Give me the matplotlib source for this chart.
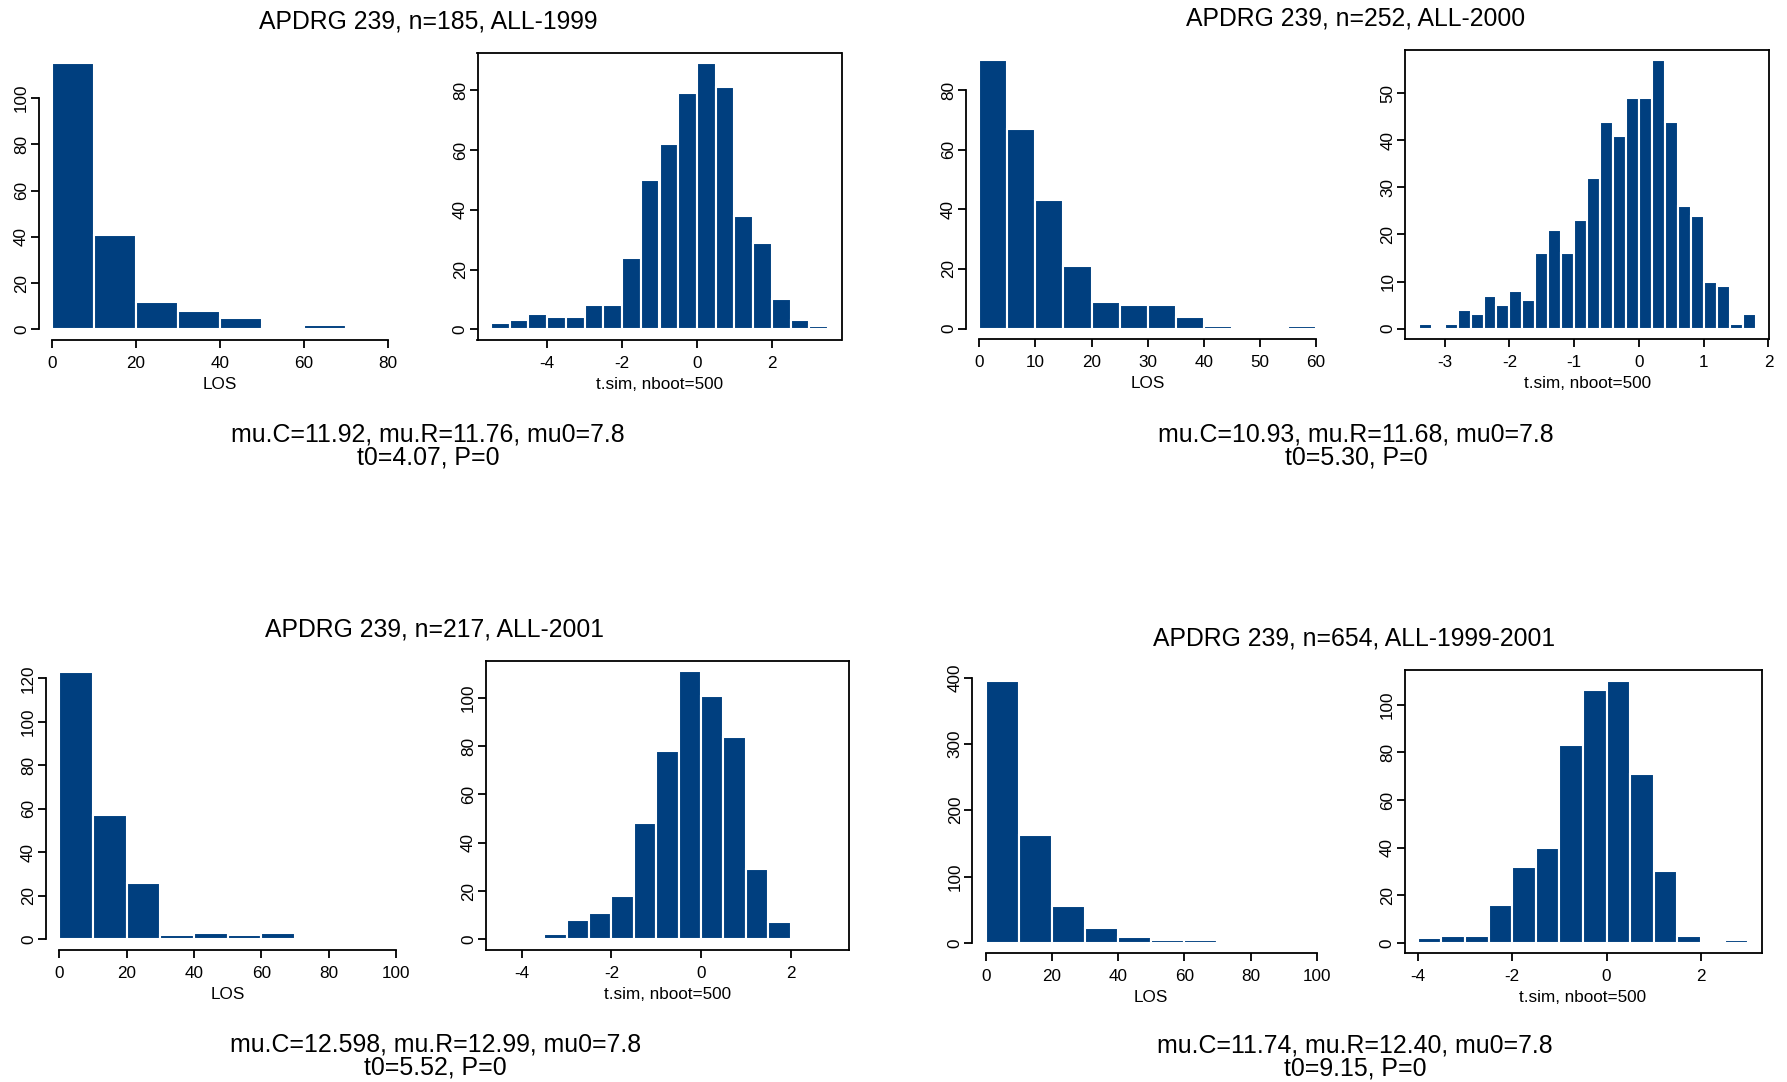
import matplotlib
matplotlib.use("Agg")
import matplotlib.pyplot as plt
import numpy as np

plt.rcParams['font.family'] = ['Liberation Sans', 'DejaVu Sans']
plt.rcParams['axes.unicode_minus'] = False

# histogram counts (R hist, right-closed bins)
los_1999_edges = np.arange(0, 81, 10)
los_1999 = [115, 41, 12, 8, 5, 1, 2, 1]
tsim_1999_edges = np.round(np.arange(-5.5, 3.51, 0.5), 2)
tsim_1999 = [2, 3, 5, 4, 4, 8, 8, 24, 50, 62, 79, 89, 81, 38, 29, 10, 3, 1]

los_2000_edges = np.arange(0, 61, 5)
los_2000 = [90, 67, 43, 21, 9, 8, 8, 4, 1, 0, 0, 1]
tsim_2000_edges = np.round(np.arange(-3.4, 1.81, 0.2), 2)
tsim_2000 = [1, 0, 1, 4, 3, 7, 5, 8, 6, 16, 21, 16, 23, 32, 44, 41, 49, 49, 57,
             44, 26, 24, 10, 9, 1, 3]

los_2001_edges = np.arange(0, 101, 10)
los_2001 = [123, 57, 26, 2, 3, 2, 3, 0, 0, 1]
tsim_2001_edges = np.round(np.arange(-4.5, 3.01, 0.5), 2)
tsim_2001 = [1, 1, 2, 8, 11, 18, 48, 78, 111, 101, 84, 29, 7, 0, 1]

los_all_edges = np.arange(0, 101, 10)
los_all = [395, 162, 55, 22, 9, 4, 5, 1, 0, 1]
tsim_all_edges = np.round(np.arange(-4.0, 3.01, 0.5), 2)
tsim_all = [2, 3, 3, 16, 32, 40, 83, 106, 110, 71, 30, 3, 0, 1]

titles = ["APDRG 239, n=185, ALL-1999", "APDRG 239, n=252, ALL-2000",
          "APDRG 239, n=217, ALL-2001", "APDRG 239, n=654, ALL-1999-2001"]
stats1 = ["mu.C=11.92, mu.R=11.76, mu0=7.8", "mu.C=10.93, mu.R=11.68, mu0=7.8",
          "mu.C=12.598, mu.R=12.99, mu0=7.8", "mu.C=11.74, mu.R=12.40, mu0=7.8"]
stats2 = ["t0=4.07, P=0", "t0=5.30, P=0", "t0=5.52, P=0", "t0=9.15, P=0"]

BLUE = '#003f7f'
W, H = 1787, 1082
fig = plt.figure(figsize=(W / 100, H / 100), dpi=100)


def px_axes(x0, y0, x1, y1):
    return fig.add_axes([x0 / W, 1 - y1 / H, (x1 - x0) / W, (y1 - y0) / H])


def r_hist(ax, edges, counts, xticks, yticks, xlabel, framed):
    edges = np.asarray(edges, dtype=float)
    ax.bar(edges[:-1], counts, width=np.diff(edges), align='edge',
           color=BLUE, edgecolor='white', linewidth=1.5)
    lo, hi = edges[0], edges[-1]
    ax.set_xlim(lo - 0.04 * (hi - lo), hi + 0.04 * (hi - lo))
    top = max(counts)
    ax.set_ylim(-0.04 * top, 1.04 * top)
    ax.set_xticks(xticks)
    ax.set_yticks(yticks)
    ax.tick_params(direction='out', length=5.5, width=1.3, labelsize=12.3, color='black')
    ax.tick_params(axis='x', pad=6)
    ax.tick_params(axis='y', pad=1.5, labelrotation=90)
    for lab in ax.get_yticklabels():
        lab.set_va('center')
    ax.set_xlabel(xlabel, fontsize=12.3, labelpad=4)
    for s in ax.spines.values():
        s.set_linewidth(1.3)
    if not framed:
        ax.spines['top'].set_visible(False)
        ax.spines['right'].set_visible(False)
        ax.spines['left'].set_bounds(yticks[0], yticks[-1])
        ax.spines['bottom'].set_bounds(xticks[0], xticks[-1])


xl_t = "t.sim, nboot=500"

ax = px_axes(38.6, 52.7, 401.4, 340)
r_hist(ax, los_1999_edges, los_1999, [0, 20, 40, 60, 80], [0, 20, 40, 60, 80, 100], "LOS", False)
ax = px_axes(477.5, 52.7, 841.5, 340)
r_hist(ax, tsim_1999_edges, tsim_1999, [-4, -2, 0, 2], [0, 20, 40, 60, 80], xl_t, True)

ax = px_axes(965.8, 49.6, 1329.5, 339.3)
r_hist(ax, los_2000_edges, los_2000, [0, 10, 20, 30, 40, 50, 60], [0, 20, 40, 60, 80], "LOS", False)
ax = px_axes(1405.3, 49.6, 1769, 339.3)
r_hist(ax, tsim_2000_edges, tsim_2000, [-3, -2, -1, 0, 1, 2], [0, 10, 20, 30, 40, 50], xl_t, True)

ax = px_axes(45.8, 661.1, 409.5, 950)
r_hist(ax, los_2001_edges, los_2001, [0, 20, 40, 60, 80, 100], [0, 20, 40, 60, 80, 100, 120], "LOS", False)
ax = px_axes(485.8, 660.7, 849, 950)
r_hist(ax, tsim_2001_edges, tsim_2001, [-4, -2, 0, 2], [0, 20, 40, 60, 80, 100], xl_t, True)

ax = px_axes(972.4, 670.5, 1330, 953.3)
r_hist(ax, los_all_edges, los_all, [0, 20, 40, 60, 80, 100], [0, 100, 200, 300, 400], "LOS", False)
ax = px_axes(1404.5, 670.4, 1761.5, 953.3)
r_hist(ax, tsim_all_edges, tsim_all, [-4, -2, 0, 2], [0, 20, 40, 60, 80, 100], xl_t, True)

# titles and summary lines, positions in pixels (centre x, baseline y)
title_pos = [(428, 28.3), (1355.6, 25.4), (434.8, 636.3), (1354, 645.3)]
stat_pos = [(428, 441.7, 465), (1356, 441.7, 465),
            (435.4, 1051.4, 1074.7), (1355, 1052.6, 1075.9)]

for t, (x, y) in zip(titles, title_pos):
    fig.text(x / W, 1 - y / H, t, ha='center', va='baseline', fontsize=17.8)
for s1, s2, (x, y1, y2) in zip(stats1, stats2, stat_pos):
    fig.text(x / W, 1 - y1 / H, s1, ha='center', va='baseline', fontsize=17.9)
    fig.text(x / W, 1 - y2 / H, s2, ha='center', va='baseline', fontsize=17.9)

fig.savefig("out.png", dpi=100)
